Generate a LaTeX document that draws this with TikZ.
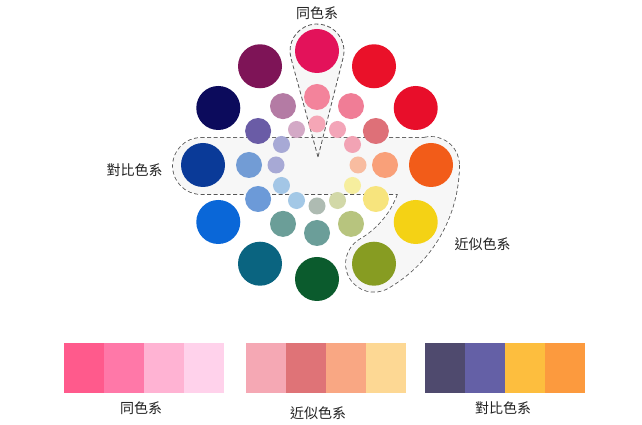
\documentclass[tikz,border=0pt]{standalone}
\usepackage{fontspec}
\newfontfamily\cjk{Noto Sans CJK TC}
\usetikzlibrary{calc}
% outer ring
\definecolor{oA}{HTML}{E3125A}
\definecolor{oB}{HTML}{EA1129}
\definecolor{oC}{HTML}{E80E2A}
\definecolor{oD}{HTML}{F25C19}
\definecolor{oE}{HTML}{F4D215}
\definecolor{oF}{HTML}{879C22}
\definecolor{oG}{HTML}{0B5B2D}
\definecolor{oH}{HTML}{0A6480}
\definecolor{oI}{HTML}{0A67D8}
\definecolor{oJ}{HTML}{0A3A98}
\definecolor{oK}{HTML}{0C0B5C}
\definecolor{oL}{HTML}{7E1457}
% middle ring
\definecolor{mA}{HTML}{F3839B}
\definecolor{mB}{HTML}{F07D96}
\definecolor{mC}{HTML}{DE7078}
\definecolor{mD}{HTML}{F9A079}
\definecolor{mE}{HTML}{F7E47D}
\definecolor{mF}{HTML}{B7C47E}
\definecolor{mG}{HTML}{6B9E99}
\definecolor{mH}{HTML}{6B9E98}
\definecolor{mI}{HTML}{6C9AD8}
\definecolor{mJ}{HTML}{729CD5}
\definecolor{mK}{HTML}{6A5CA6}
\definecolor{mL}{HTML}{B47BA4}
% inner ring
\definecolor{iA}{HTML}{F5A6B6}
\definecolor{iB}{HTML}{F3A5B8}
\definecolor{iC}{HTML}{F2A3B4}
\definecolor{iD}{HTML}{F8BCA0}
\definecolor{iE}{HTML}{F6EE9E}
\definecolor{iF}{HTML}{D2D8A8}
\definecolor{iG}{HTML}{AEBBB2}
\definecolor{iH}{HTML}{A3C8E6}
\definecolor{iI}{HTML}{A3C6E6}
\definecolor{iJ}{HTML}{A7A9D5}
\definecolor{iK}{HTML}{A7A9D5}
\definecolor{iL}{HTML}{D3A9C6}
% swatches
\definecolor{sA}{HTML}{FF5A8C}
\definecolor{sB}{HTML}{FF78A8}
\definecolor{sC}{HTML}{FFB3D3}
\definecolor{sD}{HTML}{FFD2EB}
\definecolor{sE}{HTML}{F5A8B4}
\definecolor{sF}{HTML}{DF7377}
\definecolor{sG}{HTML}{F9A783}
\definecolor{sH}{HTML}{FDD894}
\definecolor{sI}{HTML}{4F4A6E}
\definecolor{sJ}{HTML}{6460A6}
\definecolor{sK}{HTML}{FDBE3E}
\definecolor{sL}{HTML}{FC9A3E}
\definecolor{shfill}{HTML}{F7F7F7}
\definecolor{dashgray}{HTML}{555555}
\definecolor{txt}{HTML}{222222}
\begin{document}
\begin{tikzpicture}[x=1pt,y=1pt,
  dashline/.style={draw=dashgray, line width=0.8pt, dash pattern=on 4pt off 2.5pt},
  dashthick/.style={draw=dashgray, line width=1.6pt, dash pattern=on 4pt off 2.5pt},
  areafill/.style={fill=shfill},
  lbl/.style={font=\cjk\fontsize{14}{16}\selectfont, text=txt, inner sep=0pt}]
\useasboundingbox[fill=white] (0,0) rectangle (642,425);
\coordinate (C) at (317,260);
\coordinate (T) at (317,374);
\coordinate (tip) at (318,268);
% teardrop fill
\fill[areafill] (tip) -- ([shift={(194.76:27)}]T) arc[start angle=194.76, end angle=-14.76, radius=27] -- cycle;
% band + analogous (union outline)
\draw[dashthick] (432,287) -- (201,287) arc[start angle=90, end angle=270, radius=28] -- (432,231) -- cycle;
\draw[dashthick] ([shift={(0:142)}]C) arc[start angle=0, end angle=-60, radius=142]
   arc[start angle=-60, end angle=-240, radius=28]
   arc[start angle=-60, end angle=0, radius=86]
   arc[start angle=180, end angle=0, radius=28] -- cycle;
\fill[areafill] (432,287) -- (201,287) arc[start angle=90, end angle=270, radius=28] -- (432,231) -- cycle;
\fill[areafill] ([shift={(0:142)}]C) arc[start angle=0, end angle=-60, radius=142]
   arc[start angle=-60, end angle=-240, radius=28]
   arc[start angle=-60, end angle=0, radius=86]
   arc[start angle=180, end angle=0, radius=28] -- cycle;
% teardrop outline
\draw[dashline] (tip) -- ([shift={(194.76:27)}]T) arc[start angle=194.76, end angle=-14.76, radius=27] -- cycle;
% rings
\foreach \a/\c in {90/oA,60/oB,30/oC,0/oD,-30/oE,-60/oF,-90/oG,-120/oH,-150/oI,180/oJ,150/oK,120/oL}
  \fill[\c] ([shift={(\a:114)}]C) circle (22);
\foreach \a/\c in {90/mA,60/mB,30/mC,0/mD,-30/mE,-60/mF,-90/mG,-120/mH,-150/mI,180/mJ,150/mK,120/mL}
  \fill[\c] ([shift={(\a:68)}]C) circle (13);
\foreach \a/\c in {90/iA,60/iB,30/iC,0/iD,-30/iE,-60/iF,-90/iG,-120/iH,-150/iI,180/iJ,150/iK,120/iL}
  \fill[\c] ([shift={(\a:41)}]C) circle (8.5);
% labels on wheel
\node[lbl] (lmono) at (317,411.5) {同色系};
\node[lbl] (lcontr) at (134.5,255) {對比色系};
\node[lbl] (lanal) at (482.5,181) {近似色系};
% swatches
\foreach \c [count=\i from 0] in {sA,sB,sC,sD}
  \fill[\c] (64+40*\i,32) rectangle ++(40,50);
\foreach \c [count=\i from 0] in {sE,sF,sG,sH}
  \fill[\c] (246+40*\i,32) rectangle ++(40,50);
\foreach \c [count=\i from 0] in {sI,sJ,sK,sL}
  \fill[\c] (425+40*\i,32) rectangle ++(40,50);
\node[lbl] (bmono) at (141,17) {同色系};
\node[lbl] (banal) at (318,12) {近似色系};
\node[lbl] (bcontr) at (503,17) {對比色系};
\end{tikzpicture}
\end{document}
